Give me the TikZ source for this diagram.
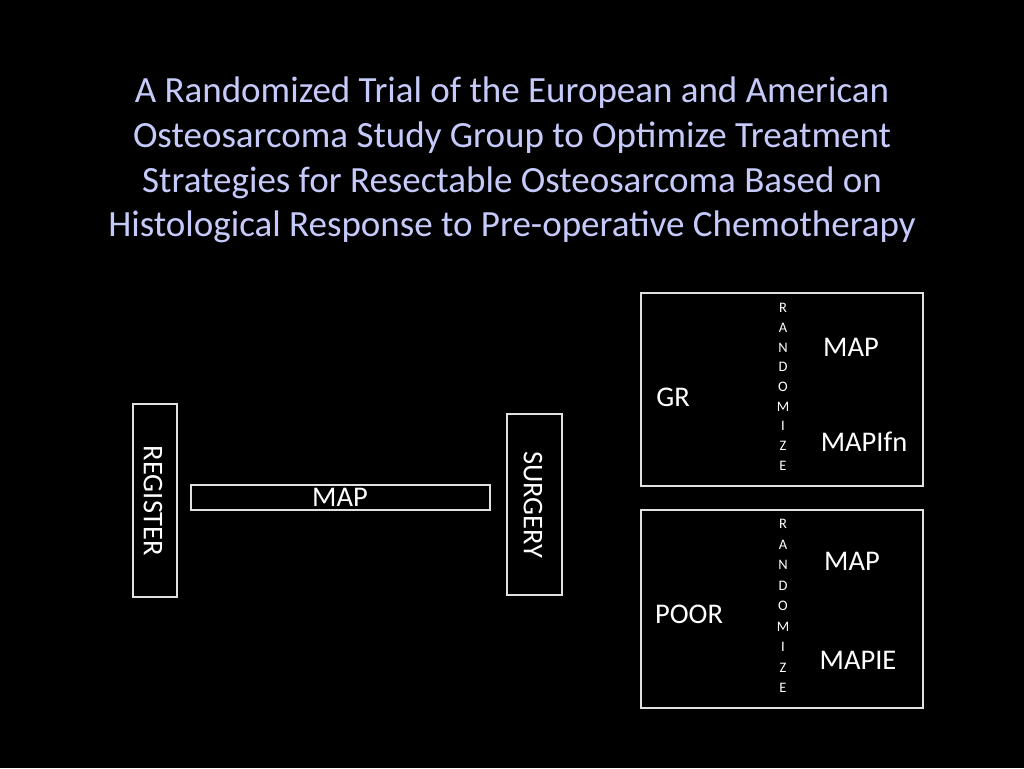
\documentclass[tikz,border=0pt]{standalone}
\usepackage{fontspec}
\setmainfont{Carlito}
\definecolor{titlecol}{RGB}{198,202,250}
\definecolor{boxline}{RGB}{225,225,225}
\begin{document}
\begin{tikzpicture}[x=1pt,y=-1pt,
  box/.style={draw=boxline,line width=1.3pt},
  lbl/.style={text=white,font=\fontsize{28.5}{32}\selectfont,inner sep=0pt},
  letter/.style={text=white,font=\fontsize{14.5}{16}\selectfont,inner sep=0pt}]
\fill[black] (0,0) rectangle (1024,768);
\useasboundingbox (0,0) rectangle (1024,768);
\node[text=titlecol,align=center,font=\fontsize{37}{44.7}\selectfont,inner sep=0pt] (title) at (512,160)
 {A Randomized Trial of the European and American\\Osteosarcoma Study Group to Optimize Treatment\\Strategies for Resectable Osteosarcoma Based on\\Histological Response to Pre-operative Chemotherapy};
% left part
\draw[box] (133,404) rectangle (177,597);
\node[lbl,rotate=-90] (register) at (153,501) {REGISTER};
\draw[box] (191,485) rectangle (490,510);
\node[lbl] (map0) at (340,497) {MAP};
\draw[box] (507,414) rectangle (562,595);
\node[lbl,rotate=-90] (surgery) at (533,505) {SURGERY};
% GR box
\draw[box] (641,293) rectangle (923,486);
\node[lbl] (gr) at (673,397) {GR};
\node[lbl] (map1) at (851,347) {MAP};
\node[lbl] (mapifn) at (864,442) {MAPIfn};
\foreach \l [count=\i from 0] in {R,A,N,D,O,M,I,Z,E}
  \node[letter] (ra\i) at (783,{308+19.7*\i}) {\l};
% POOR box
\draw[box] (641,510) rectangle (923,708);
\node[lbl] (poor) at (689,614) {POOR};
\node[lbl] (map2) at (852,561) {MAP};
\node[lbl] (mapie) at (858,660) {MAPIE};
\foreach \l [count=\i from 0] in {R,A,N,D,O,M,I,Z,E}
  \node[letter] (rb\i) at (783,{524+20.5*\i}) {\l};
\end{tikzpicture}
\end{document}
